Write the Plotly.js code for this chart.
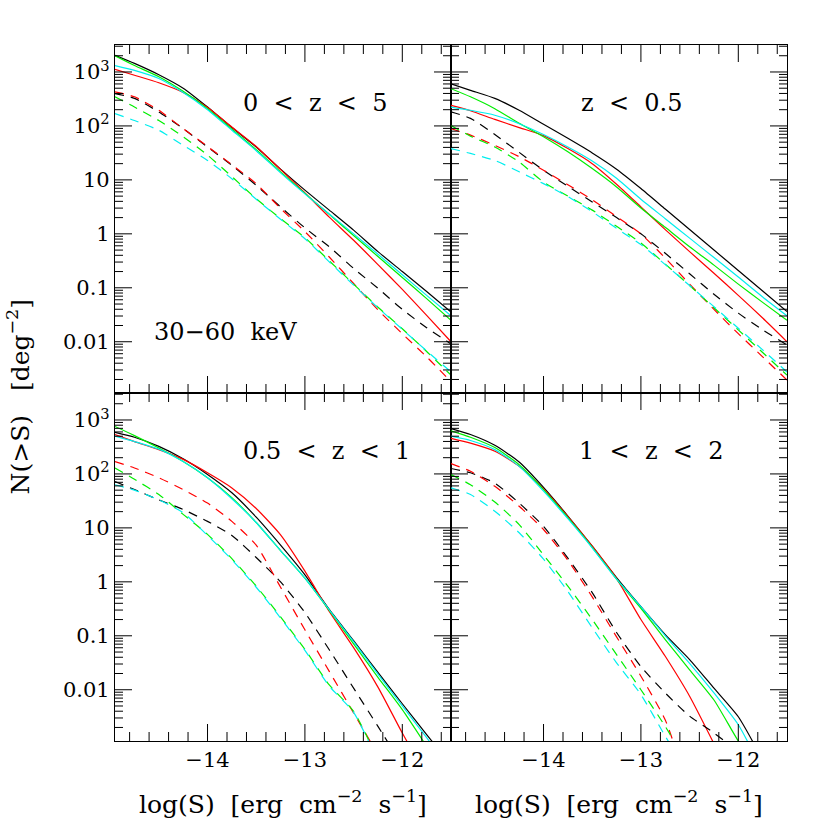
<!DOCTYPE html>
<html>
<head>
<meta charset="utf-8">
<script src="https://cdn.plot.ly/plotly-3.0.1.min.js"></script>
<style>body{margin:0;background:#fff}</style>
</head>
<body>
<div id="myDiv" style="width:830px;height:830px"></div>
<script>
// log(S) sample points, same for every panel
var logS = [-14.95, -14.75, -14.5, -14.25, -14, -13.75, -13.5, -13.25, -13, -12.75, -12.5, -12.25, -12, -11.75, -11.5];

// panel 1: 0 < z < 5
var p1Black = [2042, 1445, 891, 501, 224, 93.3, 40.7, 15.8, 6.46, 2.75, 1.17, 0.468, 0.200, 0.0851, 0.0355];
var p1Red = [1122, 871, 631, 417, 219, 95.5, 41.7, 15.5, 5.75, 2.04, 0.759, 0.269, 0.0933, 0.0309, 0.0100];
var p1Green = [1995, 1318, 813, 437, 209, 87.1, 36.3, 14.1, 5.62, 2.29, 0.933, 0.380, 0.155, 0.0631, 0.0251];
var p1Cyan = [1318, 1072, 759, 417, 200, 83.2, 34.7, 13.5, 5.50, 2.34, 1.0, 0.417, 0.174, 0.0724, 0.0302];
var p1BlackD = [398, 324, 182, 89.1, 40.7, 18.6, 7.94, 3.16, 1.29, 0.575, 0.229, 0.0977, 0.0398, 0.0182, 0.00912];
var p1RedD = [427, 347, 195, 89.1, 41.7, 19.1, 8.51, 2.95, 1.10, 0.372, 0.120, 0.0389, 0.0141, 0.00525, 0.00182];
var p1GreenD = [347, 224, 126, 63.1, 28.8, 11.5, 4.47, 1.91, 0.851, 0.316, 0.117, 0.0437, 0.0174, 0.00661, 0.00240];
var p1CyanD = [170, 126, 83.2, 43.7, 22.9, 10.5, 4.37, 1.86, 0.813, 0.302, 0.112, 0.0427, 0.0170, 0.00676, 0.00275];

// panel 2: z < 0.5
var p2Black = [603, 457, 324, 195, 107, 58.9, 31.6, 15.8, 6.92, 2.88, 1.20, 0.501, 0.209, 0.0871, 0.0363];
var p2Red = [240, 191, 132, 93.3, 66.1, 38.0, 20.0, 8.32, 3.16, 1.20, 0.468, 0.186, 0.0724, 0.0275, 0.0100];
var p2Green = [490, 347, 209, 112, 63.1, 33.1, 16.2, 7.41, 3.02, 1.32, 0.575, 0.263, 0.117, 0.0537, 0.0251];
var p2Cyan = [224, 195, 158, 110, 69.2, 40.7, 22.4, 10.7, 4.37, 1.91, 0.832, 0.363, 0.158, 0.0676, 0.0302];
var p2BlackD = [182, 138, 69.2, 32.4, 15.1, 7.59, 3.89, 2.00, 1.00, 0.437, 0.182, 0.0759, 0.0339, 0.0166, 0.00871];
var p2RedD = [89.1, 67.6, 43.7, 26.9, 15.1, 8.13, 4.27, 2.09, 1.00, 0.355, 0.117, 0.0398, 0.0141, 0.00525, 0.00195];
var p2GreenD = [102, 64.6, 40.7, 21.4, 9.12, 5.01, 2.75, 1.38, 0.676, 0.275, 0.110, 0.0427, 0.0166, 0.00631, 0.00240];
var p2CyanD = [38.0, 30.9, 22.9, 14.1, 8.51, 4.90, 2.57, 1.26, 0.631, 0.269, 0.110, 0.0447, 0.0178, 0.00708, 0.00275];

// panel 3: 0.5 < z < 1
var p3Black = [589, 479, 324, 191, 97.7, 44.7, 15.8, 4.79, 1.35, 0.309, 0.0813, 0.0209, 0.00550, 0.00148, 0.000398];
var p3Red = [537, 398, 282, 186, 105, 55.0, 22.9, 7.41, 1.58, 0.282, 0.0603, 0.0112, 0.00158, 0.000251];
var p3Green = [759, 513, 302, 170, 85.1, 36.3, 12.6, 3.80, 1.17, 0.295, 0.0708, 0.0170, 0.00427, 0.000891];
var p3Cyan = [501, 398, 288, 170, 85.1, 34.7, 12.6, 3.80, 1.17, 0.302, 0.0776, 0.0195, 0.00501, 0.00129, 0.000316];
var p3BlackD = [72.4, 51.3, 33.1, 21.9, 13.2, 7.24, 2.82, 1.00, 0.269, 0.0550, 0.0107, 0.00209, 0.000398];
var p3RedD = [170, 129, 85.1, 51.3, 28.8, 13.2, 4.79, 0.794, 0.129, 0.0219, 0.00372, 0.000631];
var p3GreenD = [129, 79.4, 41.7, 17.8, 7.59, 2.69, 0.832, 0.224, 0.0562, 0.0123, 0.00398, 0.000501];
var p3CyanD = [63.1, 50.1, 33.1, 19.1, 7.24, 2.57, 0.794, 0.214, 0.0537, 0.0117, 0.00380, 0.000470];

// panel 4: 1 < z < 2
var p4Black = [692, 537, 339, 166, 56.2, 16.6, 4.57, 1.20, 0.347, 0.105, 0.0363, 0.0107, 0.00316, 0.000501];
var p4Red = [457, 372, 263, 138, 52.5, 16.2, 4.57, 1.15, 0.200, 0.0417, 0.00759, 0.00100];
var p4Green = [631, 479, 309, 148, 51.3, 15.5, 4.37, 1.12, 0.324, 0.0851, 0.0234, 0.00646, 0.00112, 0.000251];
var p4Cyan = [501, 417, 282, 138, 47.9, 14.8, 4.27, 1.12, 0.347, 0.100, 0.0309, 0.00871, 0.00224, 0.000316];
var p4BlackD = [126, 105, 67.6, 28.8, 10.7, 2.75, 0.631, 0.115, 0.0269, 0.00871, 0.00324, 0.00158, 0.000708];
var p4RedD = [155, 112, 58.9, 25.1, 9.33, 2.51, 0.525, 0.0955, 0.0178, 0.00275, 0.000126];
var p4GreenD = [97.7, 63.1, 30.2, 11.5, 3.16, 0.832, 0.200, 0.0447, 0.0100, 0.00209, 0.000355];
var p4CyanD = [55.0, 41.7, 20.4, 8.13, 2.63, 0.661, 0.141, 0.0316, 0.00813, 0.00138, 0.000251];

// axis ranges and y tick labels
var xRange = [-14.95, -11.5];
var yRangeLog = [-2.95, 3.5];
var yTickVals = [0.01, 0.1, 1, 10, 100, 1000];
var yTickText = ['0.01', '0.1', '1', '10', '10<sup>2</sup>', '10<sup>3</sup>'];

var FONT = 'DejaVu Serif';
var PANEL_W = 336, PANEL_H = 348;   // panel size in px, used for tick lengths

function curve(y, color, dashed, n) {
    var ax = n === 1 ? '' : String(n);
    return {
        x: logS, y: y, xaxis: 'x' + ax, yaxis: 'y' + ax,
        type: 'scatter', mode: 'lines', hoverinfo: 'skip',
        line: {color: color, width: 1.2, dash: dashed ? '9px,7px' : 'solid', shape: 'spline', smoothing: 0.6}
    };
}

var data = [];
var panels = [
    [p1Black, p1Red, p1Green, p1Cyan, p1BlackD, p1RedD, p1GreenD, p1CyanD],
    [p2Black, p2Red, p2Green, p2Cyan, p2BlackD, p2RedD, p2GreenD, p2CyanD],
    [p3Black, p3Red, p3Green, p3Cyan, p3BlackD, p3RedD, p3GreenD, p3CyanD],
    [p4Black, p4Red, p4Green, p4Cyan, p4BlackD, p4RedD, p4GreenD, p4CyanD]
];
var colors = ['#000000', '#ff0000', '#00ee00', '#00eeee'];
for (var p = 0; p < 4; p++) {
    for (var k = 0; k < 8; k++) {
        data.push(curve(panels[p][k], colors[k % 4], k >= 4, p + 1));
    }
}

// inside ticks on all four sides of a panel, as short lines in domain units
function tickShapes(n) {
    var s = n === 1 ? '' : String(n);
    var xr = 'x' + s + ' domain', yr = 'y' + s + ' domain';
    var out = [];
    var ln = {color: 'black', width: 1};
    // x: every 0.2, long ones on whole numbers
    for (var i = -75; i <= -57; i++) {
        var v = i / 5;
        if (v < xRange[0] + 0.01 || v > xRange[1] - 0.01) continue;
        var f = (v - xRange[0]) / (xRange[1] - xRange[0]);
        var len = (i % 5 === 0 ? 17 : 9) / PANEL_H;
        out.push({type: 'line', xref: xr, yref: yr, x0: f, x1: f, y0: 0, y1: len, line: ln});
        out.push({type: 'line', xref: xr, yref: yr, x0: f, x1: f, y0: 1, y1: 1 - len, line: ln});
    }
    // y: log axis, 1..9 in each decade, long ones on the decades
    for (var d = -3; d <= 3; d++) {
        for (var m = 1; m <= 9; m++) {
            var lv = d + Math.log10(m);
            if (lv < yRangeLog[0] + 0.01 || lv > yRangeLog[1] - 0.01) continue;
            var g = (lv - yRangeLog[0]) / (yRangeLog[1] - yRangeLog[0]);
            var wl = (m === 1 ? 17 : 8) / PANEL_W;
            out.push({type: 'line', xref: xr, yref: yr, x0: 0, x1: wl, y0: g, y1: g, line: ln});
            out.push({type: 'line', xref: xr, yref: yr, x0: 1, x1: 1 - wl, y0: g, y1: g, line: ln});
        }
    }
    return out;
}

var shapes = [].concat(tickShapes(1), tickShapes(2), tickShapes(3), tickShapes(4));

function xAxis(domain, anchor, labels) {
    return {
        domain: domain, anchor: anchor, range: xRange,
        tickmode: 'linear', tick0: 0, dtick: 1, ticks: '',
        showline: true, linecolor: 'black', linewidth: 1.2, mirror: true,
        showgrid: false, zeroline: false, showticklabels: labels,
        tickfont: {family: FONT, size: 21, color: 'black'}
    };
}

function yAxis(domain, anchor, labels) {
    return {
        domain: domain, anchor: anchor, type: 'log', range: yRangeLog,
        tickmode: 'array', tickvals: yTickVals, ticktext: yTickText, ticks: '',
        showline: true, linecolor: 'black', linewidth: 1.2, mirror: true,
        showgrid: false, zeroline: false, showticklabels: labels,
        tickfont: {family: FONT, size: 21, color: 'black'}
    };
}

function label(text, x, y, size) {
    return {text: text, xref: 'paper', yref: 'paper', x: x, y: y, xanchor: 'center', yanchor: 'middle',
        showarrow: false, font: {family: FONT, size: size || 24, color: 'black'}};
}

var sp = '\u00a0';
var gap = sp + sp;
var xTitle = 'log(S)' + gap + '[erg' + gap + 'cm<sup>\u22122</sup>' + gap + 's<sup>\u22121</sup>]';

var layout = {
    width: 830, height: 830, showlegend: false,
    margin: {l: 115, r: 43, t: 45, b: 89},
    xaxis: xAxis([0, 0.5], 'y', false),
    yaxis: yAxis([0.5, 1], 'x', true),
    xaxis2: xAxis([0.5, 1], 'y2', false),
    yaxis2: yAxis([0.5, 1], 'x2', false),
    xaxis3: xAxis([0, 0.5], 'y3', true),
    yaxis3: yAxis([0, 0.5], 'x3', true),
    xaxis4: xAxis([0.5, 1], 'y4', true),
    yaxis4: yAxis([0, 0.5], 'x4', false),
    shapes: shapes,
    annotations: [
        label('0' + gap + '&lt;' + gap + 'z' + gap + '&lt;' + gap + '5', 0.298, 0.917),
        label('z' + gap + '&lt;' + gap + '0.5', 0.768, 0.917),
        label('0.5' + gap + '&lt;' + gap + 'z' + gap + '&lt;' + gap + '1', 0.315, 0.417),
        label('1' + gap + '&lt;' + gap + 'z' + gap + '&lt;' + gap + '2', 0.798, 0.417),
        label('30\u221260' + gap + 'keV', 0.165, 0.588),
        label(xTitle, 0.25, -0.089, 25),
        label(xTitle, 0.75, -0.089, 25),
        {text: 'N(&gt;S)' + gap + sp + '[deg<sup>\u22122</sup>]', xref: 'paper', yref: 'paper',
            x: -0.144, y: 0.494, xanchor: 'center', yanchor: 'middle', textangle: -90, showarrow: false,
            font: {family: FONT, size: 25, color: 'black'}}
    ]
};

Plotly.newPlot('myDiv', data, layout, {displayModeBar: false});
</script>
</body>
</html>
